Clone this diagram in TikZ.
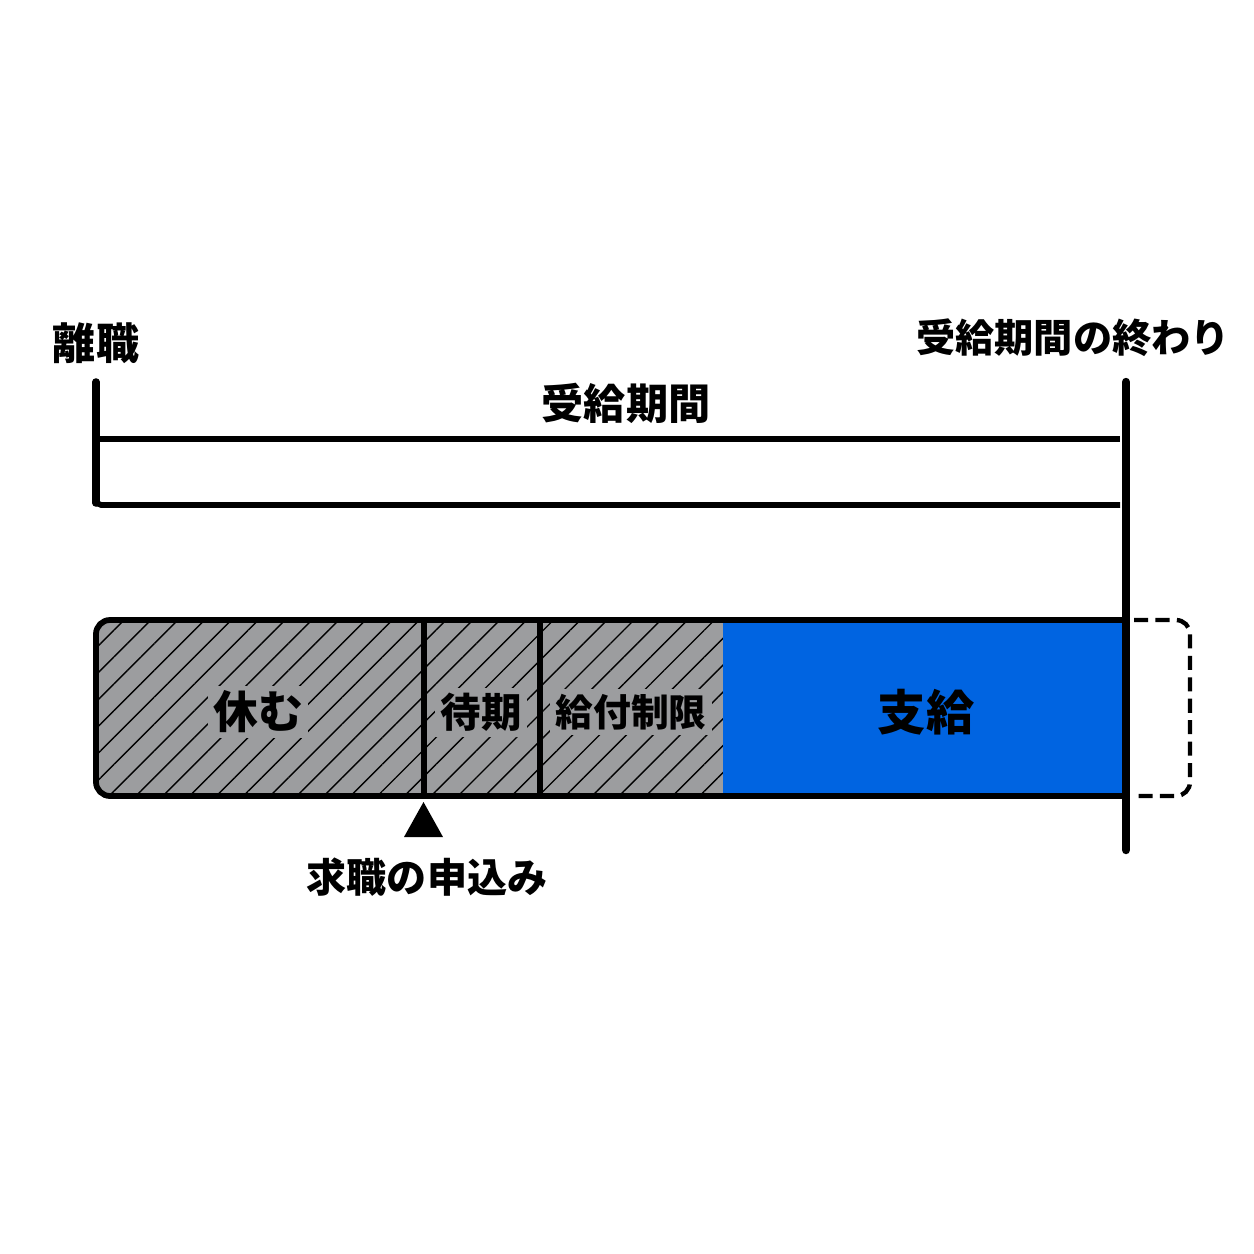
\documentclass[tikz,border=0pt]{standalone}
\usepackage{fontspec}
\newfontfamily\jp{Noto Sans CJK JP}
\usetikzlibrary{patterns.meta}
\definecolor{hgray}{RGB}{156,157,159}
\definecolor{payblue}{RGB}{0,100,225}
\begin{document}
\begin{tikzpicture}[x=0.02cm,y=-0.02cm,
  lbl/.style={font=\jp\bfseries\fontsize{#1}{#1}\selectfont, inner sep=0pt},
  inlbl/.style={lbl=#1, fill=hgray, inner sep=3pt},
  thick line/.style={line width=3.3pt},
  hatchfill/.style={fill=hgray, postaction={pattern={Lines[angle=45,distance=10.8pt,line width=0.8pt]}, pattern color=black}}]
\useasboundingbox[fill=white] (0,0) rectangle (1254,1254);
% top bar
\draw[line width=4.3pt, line cap=round] (96,382) -- (96,503);
\draw[thick line, rounded corners=3pt] (96,503) -- (96,505) -- (1120,505);
\draw[thick line] (96,439) -- (1120,439);
% bottom bar
\path[hatchfill] (723,620) [rounded corners=8pt] -- (96,620) -- (96,796) [sharp corners] -- (723,796) -- cycle;
\fill[payblue] (723,620) rectangle (1126,796);
\draw[thick line, rounded corners=8pt] (1126,620) -- (96,620) -- (96,796) -- (1126,796);
\draw[thick line] (424,620) -- (424,796);
\draw[thick line] (540,620) -- (540,796);
% right line
\draw[line width=4.8pt, line cap=round] (1126,382) -- (1126,850);
% dashed
\draw[line width=2.5pt, dash pattern=on 8pt off 4.2pt, rounded corners=8pt] (1134,620) -- (1190,620) -- (1190,796) -- (1134,796);
% labels
\node[lbl=24.5pt] (rishoku) at (96,343) {離職};
\node[lbl=24pt] (kikan) at (626,403) {受給期間};
\node[lbl=22.3pt] (owari) at (1073,338) {受給期間の終わり};
\node[inlbl=25.5pt] (yasumu) at (258,712) {休む};
\node[inlbl=23pt] (taiki) at (481,712) {待期};
\node[inlbl=21.5pt] (seigen) at (631,712) {給付制限};
\node[lbl=27.5pt] (shikyu) at (926,712) {支給};
\node[lbl=22.8pt] (moushi) at (427,877) {求職の申込み};
\coordinate (tri) at (423.5,820);
\fill (423.5,802) -- (443,837) -- (404,837) -- cycle;
\end{tikzpicture}
\end{document}
